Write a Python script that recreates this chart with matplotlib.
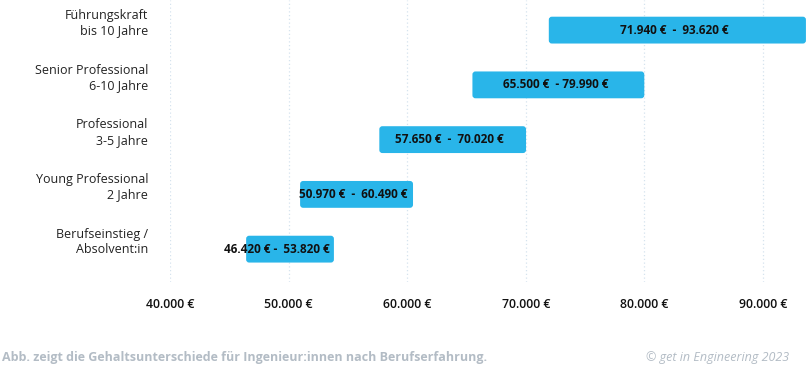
import matplotlib.pyplot as plt
from matplotlib.patches import FancyBboxPatch

# Daten
kategorien = ["Führungskraft\nbis 10 Jahre", "Senior Professional\n6-10 Jahre",
              "Professional\n3-5 Jahre", "Young Professional\n2 Jahre",
              "Berufseinstieg /\nAbsolvent:in"]
gehalt_min = [71940, 65500, 57650, 50970, 46420]
gehalt_max = [93620, 79990, 70020, 60490, 53820]
beschriftung = ["71.940 €  -  93.620 €", "65.500 €  - 79.990 €", "57.650 €  -  70.020 €",
                "50.970 €  -  60.490 €", "46.420 € -  53.820 €"]
ticks = [40000, 50000, 60000, 70000, 80000, 90000]
tick_labels = ["40.000 €", "50.000 €", "60.000 €", "70.000 €", "80.000 €", "90.000 €"]

plt.rcParams['font.family'] = ['Open Sans', 'DejaVu Sans']

W, H = 806, 365
fig = plt.figure(figsize=(W / 100, H / 100), dpi=100)
ax = fig.add_axes([170 / W, (H - 282) / H, (806 - 170) / W, 282 / H])

px_x = 1000 / 11.86          # Euro pro Pixel
x0, x1 = 40000, 40000 + (806 - 170) * px_x
ax.set_xlim(x0, x1)
ax.set_ylim(-0.6, 4.55)
px_y = 5.15 / 282            # y-Einheiten pro Pixel

for t in ticks:
    ax.axvline(t, color='#d5e3ee', linestyle=(0, (1, 2)), linewidth=0.9, zorder=0)

n = len(kategorien)
hoehe = 0.49
for i, (lo, hi, txt, kat) in enumerate(zip(gehalt_min, gehalt_max, beschriftung, kategorien)):
    y = n - 1 - i
    box = FancyBboxPatch((lo, y - hoehe / 2), hi - lo, hoehe,
                         boxstyle="round,pad=0,rounding_size=%f" % (3 * px_x),
                         mutation_aspect=px_y / px_x,
                         facecolor='#29b5e9', edgecolor='none', zorder=2)
    ax.add_patch(box)
    # zu schmale Balken: Text rechtsbündig am Balkenende
    if (hi - lo) / px_x < 100:
        ax.text(hi - 4 * px_x, y, txt, ha='right', va='center', fontsize=8.5,
                fontweight='bold', color='#111111', zorder=3)
    else:
        ax.text((lo + hi) / 2 - 3 * px_x, y, txt, ha='center', va='center', fontsize=8.5,
                fontweight='bold', color='#111111', zorder=3)
    ax.text(-22 / (806 - 170), y + 0.13, kat, transform=ax.get_yaxis_transform(),
            ha='right', va='center', fontsize=9, color='#222222', linespacing=1.25)

for t, lab in zip(ticks, tick_labels):
    ax.text(t, -22 / 282, lab, transform=ax.get_xaxis_transform(),
            ha='center', va='center', fontsize=8.8, fontweight='semibold', color='#111111')

ax.set_xticks([])
ax.set_yticks([])
for s in ax.spines.values():
    s.set_visible(False)
ax.patch.set_alpha(0)

fig.text(2 / W, 1 - 357 / H, "Abb. zeigt die Gehaltsunterschiede für Ingenieur:innen nach Berufserfahrung.",
         ha='left', va='center', fontsize=9, fontweight='bold', color='#b3bcc5')
fig.text(789 / W, 1 - 357 / H, "© get in Engineering 2023", ha='right', va='center',
         fontsize=9, style='italic', color='#b3bcc5')

fig.savefig("out.png", dpi=100)
